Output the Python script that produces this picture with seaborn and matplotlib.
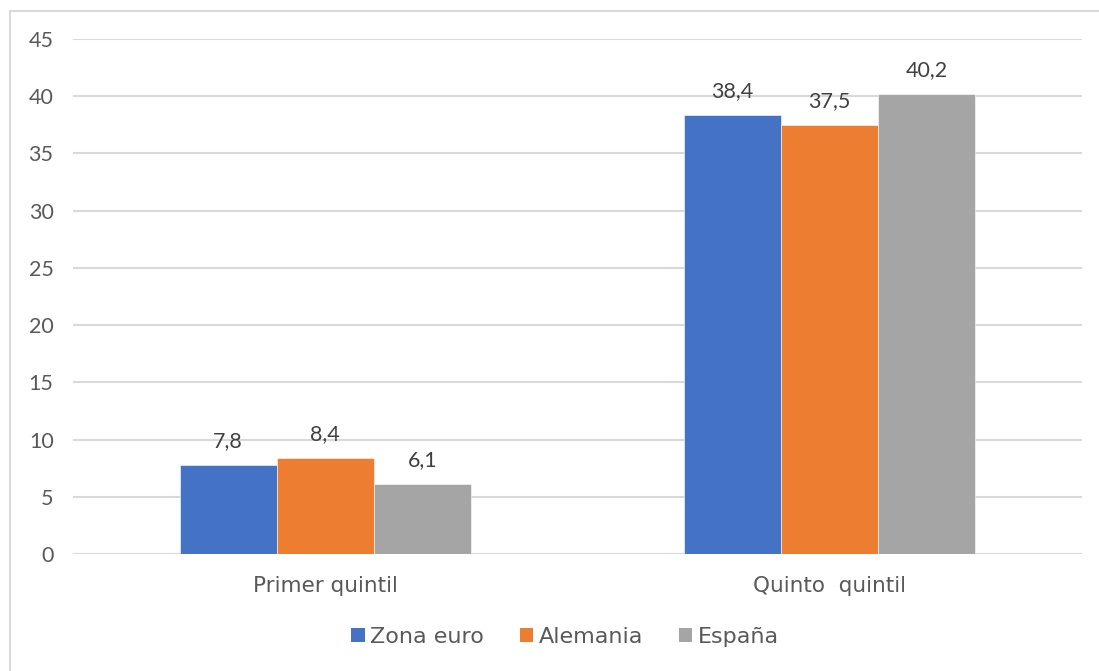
import matplotlib
matplotlib.use("Agg")
import matplotlib.pyplot as plt
from matplotlib.patches import Patch
from matplotlib.lines import Line2D
import seaborn as sns
import pandas as pd

categorias = ["Primer quintil", "Quinto  quintil"]
series = ["Zona euro", "Alemania", "España"]
zona_euro = [7.8, 38.4]
alemania = [8.4, 37.5]
espana = [6.1, 40.2]
colores = ["#4472C4", "#ED7D31", "#A5A5A5"]
yticks = [0, 5, 10, 15, 20, 25, 30, 35, 40, 45]

df = pd.DataFrame({
    "categoria": categorias * 3,
    "serie": [s for s in series for _ in categorias],
    "valor": zona_euro + alemania + espana,
})

sns.set_theme(style="white")
plt.rcParams["font.family"] = ["Lato", "DejaVu Sans"]

texto = "#595959"
fig = plt.figure(figsize=(10.99, 6.71), dpi=100)
ax = fig.add_axes([73 / 1099, 1 - 554 / 671, (1082 - 73) / 1099, (554 - 39) / 671])

sns.barplot(data=df, x="categoria", y="valor", hue="serie", palette=colores,
            width=0.577, gap=0, saturation=1, ax=ax, legend=False,
            edgecolor="white", linewidth=0.4)

ax.set_ylim(0, 45)
ax.set_yticks(yticks)
ax.set_yticklabels([str(v) for v in yticks])
ax.yaxis.grid(True, color="#d9d9d9", linewidth=1.5)
ax.set_axisbelow(True)
for s in ax.spines.values():
    s.set_visible(False)
ax.axhline(0, color="#d9d9d9", linewidth=1.5, zorder=0.5)
ax.set_xlabel("")
ax.set_ylabel("")
ax.tick_params(axis="y", length=0, pad=14, labelsize=15.5, labelcolor=texto)
ax.tick_params(axis="x", length=0, pad=16, labelcolor=texto)
for lbl in ax.get_xticklabels():
    lbl.set_fontfamily(["DejaVu Sans"])
    lbl.set_fontsize(15.5)

for cont in ax.containers:
    ax.bar_label(cont, labels=[f"{v:.1f}".replace(".", ",") for v in cont.datavalues],
                 padding=10, fontsize=15.5, color="#404040")

handles = [Patch(facecolor=c, edgecolor="none") for c in colores]
fig.legend(handles, series, loc="center", bbox_to_anchor=(565 / 1099, 1 - 637 / 671),
           ncol=3, frameon=False, handlelength=0.6, handleheight=0.6,
           handletextpad=0.25, columnspacing=1.6,
           prop={"family": ["DejaVu Sans"], "size": 16}, labelcolor=texto)

# outer frame: top and left edges of the chart area
bx, by = 9.5 / 1099, 1 - 10.5 / 671
fig.add_artist(Line2D([bx, 1.0], [by, by], transform=fig.transFigure,
                      color="#d9d9d9", linewidth=1.5))
fig.add_artist(Line2D([bx, bx], [0.0, by], transform=fig.transFigure,
                      color="#d9d9d9", linewidth=1.5))

fig.savefig("out.png", dpi=100)
